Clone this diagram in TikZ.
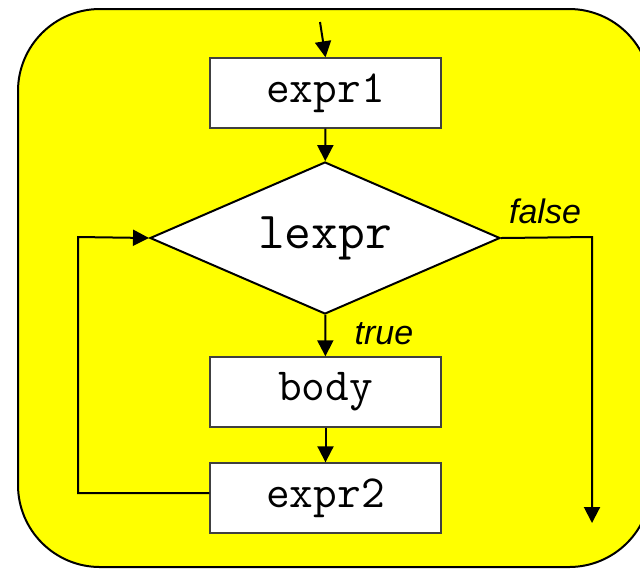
\documentclass[tikz,border=0pt]{standalone}
\usepackage{fontspec}
\setsansfont{Liberation Sans}
\usetikzlibrary{arrows.meta,shapes.geometric}
\definecolor{bgyellow}{RGB}{255,255,0}

\begin{document}
\begin{tikzpicture}[x=0.5pt,y=-0.5pt]

\tikzstyle{stmt}=[draw=black!75,line width=0.7pt,fill=white,minimum width=115.5pt,minimum height=35pt,inner sep=0pt,font=\ttfamily\fontsize{23}{23}\selectfont]
\tikzstyle{test}=[diamond,draw,line width=1pt,fill=white,aspect=2.3,minimum width=175pt,minimum height=76pt,inner sep=0pt,font=\ttfamily\fontsize{26}{26}\selectfont]
\tikzstyle{flow}=[line width=1pt,-{Triangle[length=8pt,width=8pt]}]
\tikzstyle{lbl}=[font=\sffamily\itshape\fontsize{17}{17}\selectfont]

\useasboundingbox (0,0) rectangle (640,569);
\clip (0,0) rectangle (640,569);
\draw[line width=1pt,fill=bgyellow,rounded corners=41pt] (18,9) rectangle (651,567);

\node[shape=coordinate] (in) at (320,22){};
\node[shape=coordinate] (fr) at (592,237){};
\node[shape=coordinate] (out) at (592,523){};
\node[shape=coordinate] (bl) at (78,493){};
\node[shape=coordinate] (tl) at (78,237){};

\node[stmt] (expr1) at (325.5,93) {expr1};
\node[test] (lexpr) at (325,238) {lexpr};
\node[stmt] (body) at (325.5,392) {body};
\node[stmt] (expr2) at (325.5,498) {expr2};

\draw[flow] (in)--(expr1.north);
\draw[flow] (expr1)--(lexpr);
\draw[flow] (lexpr)--(body);
\draw[flow] (body)--(expr2);
\draw[flow] (lexpr.east)--(fr)--(out);
\draw[flow] ([yshift=2.5pt]expr2.west)--(bl)--(tl)--(lexpr.west);

\node[lbl] (tlab) at (384,334) {true};
\node[lbl] (flab) at (545,211) {false};

\end{tikzpicture}
\end{document}
